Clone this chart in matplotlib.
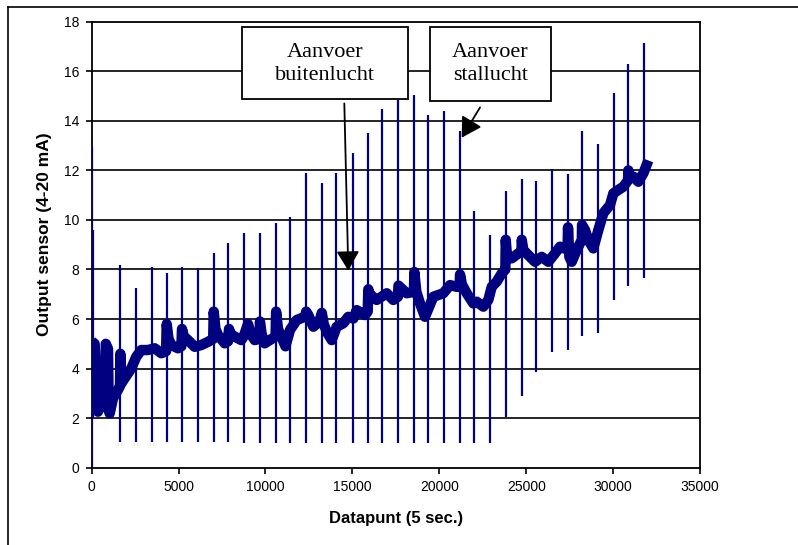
import matplotlib
matplotlib.use("Agg")
import matplotlib.pyplot as plt
from matplotlib.patches import Rectangle
from matplotlib.lines import Line2D

# sensor signal (baseline band)
base_x = [0, 170, 360, 650, 790, 810, 940, 980, 1036, 1226, 1513, 1628, 1648, 1700,
          1899, 2279, 2567, 2855, 3240, 3625, 4005, 4280, 4316, 4420, 4582, 4966,
          5160, 5196, 5300, 5541, 5927, 6307, 6692, 6990, 7020, 7120, 7267, 7653,
          7843, 7900, 8000, 8228, 8608, 8746, 8994, 9150, 9379, 9650, 9680, 9780,
          9955, 10242, 10580, 10610, 10720, 10910, 11150, 11410, 11796, 12300,
          12340, 12465, 12751, 13100, 13240, 13350, 13522, 13810, 14097, 14477,
          14765, 15053, 15248, 15726, 15880, 15916, 16000, 16399, 16974, 17354,
          17620, 17650, 17930, 18125, 18540, 18563, 18680, 18891, 19178, 19656,
          20231, 20617, 21002, 21170, 21192, 21300, 21578, 21958, 22153, 22533,
          22821, 23016, 23304, 23591, 23800, 23822, 23900, 24167, 24547, 24730,
          24743, 24834, 25122, 25508, 25893, 26273, 26658, 26946, 27380, 27406,
          27480, 27620, 27907, 28200, 28212, 28385, 28575, 28862, 29150, 29437,
          29823, 30013, 30301, 30588, 30860, 30876, 30960, 31164, 31452, 31740,
          32027]
base_y = [5.1, 5.0, 2.26, 2.8, 2.6, 5.0, 4.8, 2.3, 2.19, 2.8, 3.14, 3.3, 4.6, 3.4,
          3.61, 4.01, 4.48, 4.75, 4.75, 4.82, 4.62, 4.7, 5.8, 5.2, 4.95, 4.82,
          4.9, 5.6, 5.3, 5.15, 4.88, 4.95, 5.08, 5.2, 6.3, 5.6, 5.36, 5.02,
          5.1, 5.6, 5.4, 5.29, 5.15, 5.3, 5.8, 5.4, 5.15, 5.2, 5.9, 5.4,
          5.02, 5.15, 5.3, 6.3, 5.6, 5.29, 4.9, 5.56, 5.96, 6.1,
          6.3, 6.16, 5.69, 5.9, 6.25, 5.8, 5.49, 5.15, 5.69, 5.83,
          6.09, 6.02, 6.36, 6.16, 6.3, 7.2, 7.0, 6.77, 7.04, 6.77,
          6.9, 7.35, 7.17, 7.04, 7.1, 7.9, 7.1, 6.63, 6.09, 6.9,
          7.04, 7.37, 7.3, 7.3, 7.8, 7.4, 7.04, 6.63, 6.7, 6.5,
          6.77, 7.3, 7.51, 7.84, 8.0, 9.2, 8.51, 8.45, 8.65, 8.7,
          9.2, 8.79, 8.58, 8.31, 8.51, 8.31, 8.65, 8.92, 8.8, 9.7,
          8.51, 8.31, 8.79, 9.2, 9.8, 9.59, 9.19, 8.85, 9.59, 10.27,
          10.6, 11.07, 11.21, 11.34, 11.6, 12.0, 11.7, 11.75, 11.54, 11.88,
          12.4]

# calibration spikes: position, lowest and highest reading
spike_x = [0, 60, 1628, 2549, 3452, 4316, 5179, 6099, 7020, 7843, 8746, 9667,
           10605, 11410, 12331, 13234, 14057, 15018, 15916, 16721, 17642, 18563,
           19368, 20271, 21192, 22015, 22919, 23822, 24743, 25565, 26486, 27406,
           28212, 29133, 30070, 30876, 31780]
spike_lo = [0, 2.0, 1.05, 1.05, 1.05, 1.05, 1.05, 1.05, 1.05, 1.05, 1.0, 1.0,
            1.0, 1.0, 1.0, 1.0, 1.0, 1.0, 1.0, 1.0, 1.0, 1.0,
            1.0, 1.0, 1.0, 1.0, 1.0, 2.03, 2.9, 3.88, 4.68, 4.75,
            5.33, 5.42, 6.77, 7.33, 7.67]
spike_hi = [12.93, 9.59, 8.18, 7.24, 8.11, 7.87, 8.11, 8.05, 8.68, 9.08, 9.49, 9.49,
            9.89, 10.13, 11.91, 11.5, 11.91, 12.71, 13.52, 14.48, 14.84, 15.04,
            14.23, 14.41, 13.6, 10.36, 9.39, 11.17, 11.65, 11.58, 12.06, 11.84,
            13.6, 13.05, 15.13, 16.28, 17.16]

fig = plt.figure(figsize=(7.98, 5.45), dpi=100)
ax = fig.add_axes([0.1149, 0.1418, 0.7623, 0.8184])

navy = "#000080"
for v in range(2, 18, 2):
    ax.axhline(v, color="black", lw=1.2, zorder=1)

ax.plot(base_x, base_y, color=navy, lw=7.5, solid_joinstyle="round",
        solid_capstyle="butt", zorder=2)
ax.vlines(spike_x, spike_lo, spike_hi, color=navy, lw=1.6, zorder=3)

ax.set_xlim(0, 35000)
ax.set_ylim(0, 18)
ax.set_xticks(range(0, 35001, 5000))
ax.set_yticks(range(0, 19, 2))
for s in ax.spines.values():
    s.set_linewidth(1.3)
    s.set_color("black")
ax.tick_params(direction="out", length=4, width=1.2, labelsize=10, pad=5)
for lab in ax.get_xticklabels() + ax.get_yticklabels():
    lab.set_family("Liberation Sans")

ax.set_xlabel("Datapunt (5 sec.)", fontsize=12, fontweight="bold",
              family="Liberation Sans")
ax.set_ylabel("Output sensor (4-20 mA)", fontsize=12.5, fontweight="bold",
              family="Liberation Sans")
ax.xaxis.set_label_coords(0.5, -0.113)
ax.xaxis.label.set_va("center")
ax.yaxis.set_label_coords(-0.077, 0.523)
ax.yaxis.label.set_va("center")

# text boxes with arrows
ax.add_patch(Rectangle((8666, 14.87), 18217 - 8666, 17.77 - 14.87, facecolor="white",
                       edgecolor="black", lw=1.3, zorder=4))
ax.add_patch(Rectangle((19466, 14.8), 26411 - 19466, 17.77 - 14.8, facecolor="white",
                       edgecolor="black", lw=1.3, zorder=4))
ax.text(13441, 16.3, "Aanvoer\nbuitenlucht", ha="center", va="center", fontsize=16,
        family="Liberation Serif", linespacing=1.25, zorder=5)
ax.text(22938, 16.3, "Aanvoer\nstallucht", ha="center", va="center", fontsize=16,
        family="Liberation Serif", linespacing=1.25, zorder=5)
ax.annotate("", xy=(14765, 7.95), xytext=(14535, 14.7),
            arrowprops=dict(arrowstyle="-|>,head_length=0.6,head_width=0.35",
                            mutation_scale=20, color="black", lw=1.3,
                            shrinkA=0, shrinkB=0), zorder=6)
ax.annotate("", xy=(21290, 13.32), xytext=(22343, 14.54),
            arrowprops=dict(arrowstyle="-|>,head_length=0.6,head_width=0.35",
                            mutation_scale=20, color="black", lw=1.3,
                            shrinkA=0, shrinkB=0), zorder=6)

# outer frame of the chart area
fig.add_artist(Line2D([8 / 798, 1], [1 - 7 / 545, 1 - 7 / 545], color="black", lw=1.2))
fig.add_artist(Line2D([8 / 798, 8 / 798], [0, 1 - 7 / 545], color="black", lw=1.2))

fig.savefig("out.png", dpi=100)
